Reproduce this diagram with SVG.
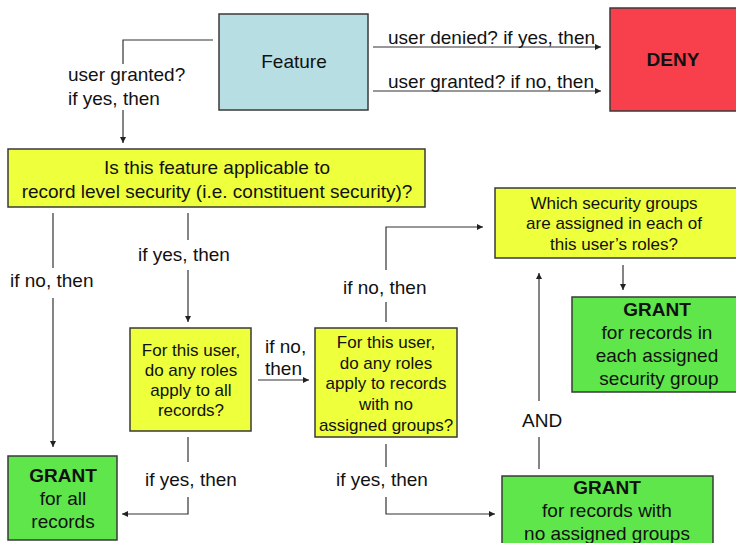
<svg xmlns="http://www.w3.org/2000/svg" width="736" height="543" viewBox="0 0 736 543">
<style>
text{font-family:"Liberation Sans",Arial,sans-serif;fill:#111;}
.lbl{font-size:19px;}
.box{stroke:#3a3a3a;stroke-width:1.5;}
.blue{fill:#B7DEE3;}
.red{fill:#F8404C;}
.yel{fill:#EEFF3C;}
.grn{fill:#5EE64B;}
.t19{font-size:19px;text-anchor:middle;}
.t17{font-size:17px;text-anchor:middle;}
.b{font-weight:bold;}
.ln{stroke:#333;stroke-width:1.2;fill:none;}
</style>
<defs>
<marker id="ah" viewBox="0 0 10 10" refX="10" refY="5" markerWidth="6" markerHeight="6" markerUnits="userSpaceOnUse" orient="auto">
<path d="M0,0 L10,5 L0,10 z" fill="#222"/>
</marker>
</defs>
<rect width="736" height="543" fill="#fff"/>

<g id="connectors">
<path class="ln" d="M213,40 H123 V64"/>
<path class="ln" d="M123,110 V143" marker-end="url(#ah)"/>
<path class="ln" d="M373,47 H601" marker-end="url(#ah)"/>
<path class="ln" d="M373,91 H601" marker-end="url(#ah)"/>
<path class="ln" d="M53,213 V268"/>
<path class="ln" d="M53,298 V447" marker-end="url(#ah)"/>
<path class="ln" d="M188,213 V240"/>
<path class="ln" d="M188,270 V322" marker-end="url(#ah)"/>
<path class="ln" d="M258,380 H309" marker-end="url(#ah)"/>
<path class="ln" d="M188,437 V462"/>
<path class="ln" d="M188,497 V514 H122" marker-end="url(#ah)"/>
<path class="ln" d="M386,322 V302"/>
<path class="ln" d="M386,270 V227 H483" marker-end="url(#ah)"/>
<path class="ln" d="M386,444 V467"/>
<path class="ln" d="M386,497 V514 H495" marker-end="url(#ah)"/>
<path class="ln" d="M623,265 V290" marker-end="url(#ah)"/>
<path class="ln" d="M539,469 V437"/>
<path class="ln" d="M539,401 V273" marker-end="url(#ah)"/>
<text class="lbl" x="388" y="44">user denied? if yes, then</text>
<text class="lbl" x="388" y="88">user granted? if no, then</text>
<text class="lbl" x="68" y="81">user granted?</text>
<text class="lbl" x="68" y="105">if yes, then</text>
<text class="lbl" x="10" y="287">if no, then</text>
<text class="lbl" x="138" y="261">if yes, then</text>
<text class="lbl" x="343" y="294">if no, then</text>
<text class="lbl" x="265" y="353">if no,</text>
<text class="lbl" x="265" y="375">then</text>
<text class="lbl" x="145" y="486">if yes, then</text>
<text class="lbl" x="336" y="486">if yes, then</text>
<text class="lbl" x="522" y="427">AND</text>
</g>

<g id="feature">
<rect class="box blue" x="219" y="14" width="149" height="96"/>
<text class="t19" x="294" y="68">Feature</text>
</g>

<g id="deny">
<rect class="box red" x="610" y="8" width="130" height="103"/>
<text class="t19 b" x="673" y="66">DENY</text>
</g>

<g id="applicable">
<rect class="box yel" x="8" y="149" width="417" height="58"/>
<text class="t19" x="217" y="174">Is this feature applicable to</text>
<text class="t19" x="217" y="198">record level security (i.e. constituent security)?</text>
</g>

<g id="allRecords">
<rect class="box yel" x="130" y="328" width="121" height="103"/>
<text class="t17" x="191" y="356">For this user,</text>
<text class="t17" x="191" y="376">do any roles</text>
<text class="t17" x="191" y="396">apply to all</text>
<text class="t17" x="191" y="416">records?</text>
</g>

<g id="noGroups">
<rect class="box yel" x="315" y="328" width="142" height="109"/>
<text class="t17" x="386" y="348">For this user,</text>
<text class="t17" x="386" y="369">do any roles</text>
<text class="t17" x="386" y="389">apply to records</text>
<text class="t17" x="386" y="410">with no</text>
<text class="t17" x="386" y="431">assigned groups?</text>
</g>

<g id="whichGroups">
<rect class="box yel" x="495" y="188" width="245" height="70"/>
<text class="t17" x="614" y="209">Which security groups</text>
<text class="t17" x="614" y="229">are assigned in each of</text>
<text class="t17" x="614" y="250">this user’s roles?</text>
</g>

<g id="grantAll">
<rect class="box grn" x="8" y="456" width="109" height="84"/>
<text class="t19 b" x="63" y="482">GRANT</text>
<text class="t19" x="63" y="505">for all</text>
<text class="t19" x="63" y="528">records</text>
</g>

<g id="grantEach">
<rect class="box grn" x="572" y="297" width="168" height="95"/>
<text class="t19 b" x="657" y="316">GRANT</text>
<text class="t19" x="657" y="339">for records in</text>
<text class="t19" x="657" y="362">each assigned</text>
<text class="t19" x="659" y="385">security group</text>
</g>

<g id="grantNoGroups">
<rect class="box grn" x="502" y="476" width="211" height="72"/>
<text class="t19 b" x="607" y="494">GRANT</text>
<text class="t19" x="607" y="517">for records with</text>
<text class="t19" x="607" y="540">no assigned groups</text>
</g>
</svg>
